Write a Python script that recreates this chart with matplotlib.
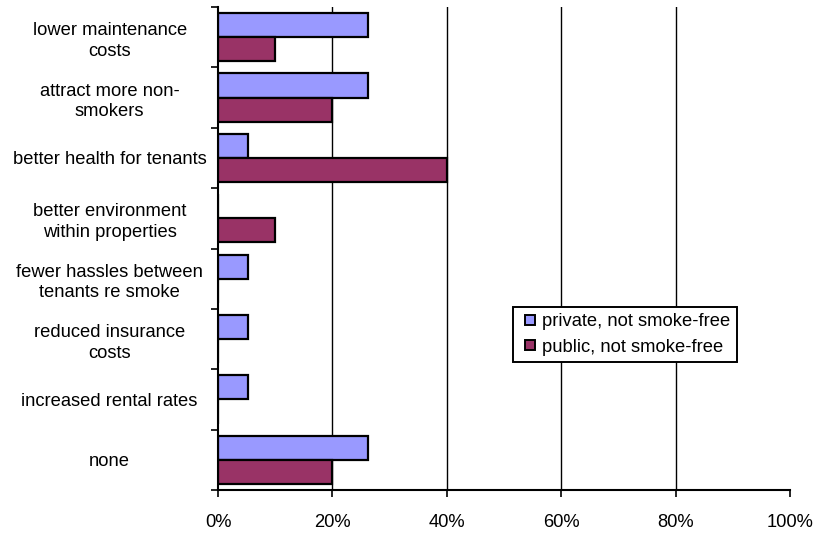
import numpy as np
import matplotlib
matplotlib.use("Agg")
import matplotlib.pyplot as plt
from matplotlib.ticker import FixedLocator, PercentFormatter

plt.rcParams['font.family'] = ['Liberation Sans', 'DejaVu Sans']

categories = [
    "lower maintenance\ncosts",
    "attract more non-\nsmokers",
    "better health for tenants",
    "better environment\nwithin properties",
    "fewer hassles between\ntenants re smoke",
    "reduced insurance\ncosts",
    "increased rental rates",
    "none",
]
private_vals = [26.3, 26.3, 5.3, 0.0, 5.3, 5.3, 5.3, 26.3]
public_vals = [10.0, 20.0, 40.0, 10.0, 0.0, 0.0, 0.0, 20.0]
series_names = ["private, not smoke-free", "public, not smoke-free"]
x_ticks = [0, 20, 40, 60, 80, 100]

FS = 13.2

fig = plt.figure(figsize=(8.13, 5.33), dpi=100)
ax = fig.add_axes([218 / 813, 1 - 490 / 533, (790 - 218) / 813, (490 - 7) / 533])

y = np.arange(len(categories))
h = 0.4
ax.barh(y - h / 2, private_vals, height=h, color="#9999FF",
        edgecolor="black", linewidth=1.6, label=series_names[0], zorder=3)
ax.barh(y + h / 2, public_vals, height=h, color="#993366",
        edgecolor="black", linewidth=1.6, label=series_names[1], zorder=3)

ax.set_xlim(0, 100)
ax.set_ylim(len(categories) - 0.5, -0.5)

ax.xaxis.set_major_locator(FixedLocator(x_ticks))
ax.xaxis.set_major_formatter(PercentFormatter(decimals=0))
ax.set_yticks(y)
ax.set_yticklabels(categories, ha="center", fontsize=FS, linespacing=1.28)
ax.yaxis.set_minor_locator(FixedLocator(np.arange(-0.5, len(categories), 1.0)))
ax.tick_params(axis="y", which="major", length=0, pad=78)
ax.tick_params(axis="y", which="minor", length=5, width=1.2, direction="out")
ax.tick_params(axis="x", which="major", length=5, width=1.2, direction="out",
               labelsize=FS, pad=12)

for v in x_ticks[1:-1]:
    ax.axvline(v, color="black", linewidth=1.0, zorder=1)

for side in ("top", "right"):
    ax.spines[side].set_visible(False)
for side in ("left", "bottom"):
    ax.spines[side].set_linewidth(1.5)
    ax.spines[side].set_zorder(4)

leg = ax.legend(loc="upper left", bbox_to_anchor=(513 / 813, 1 - 307 / 533),
                bbox_transform=fig.transFigure, borderaxespad=0, fancybox=False,
                framealpha=1, edgecolor="black", fontsize=FS, handlelength=0.91,
                handleheight=0.45, handletextpad=0.33, labelspacing=0.45,
                borderpad=0.35)
leg.get_frame().set_linewidth(1.4)
# small square swatches, inset within the handle area
for p in leg.get_patches():
    p.set_x(p.get_x() + 4.0)
    p.set_width(7.4)
    p.set_linewidth(1.4)

fig.savefig("out.png", dpi=100)
